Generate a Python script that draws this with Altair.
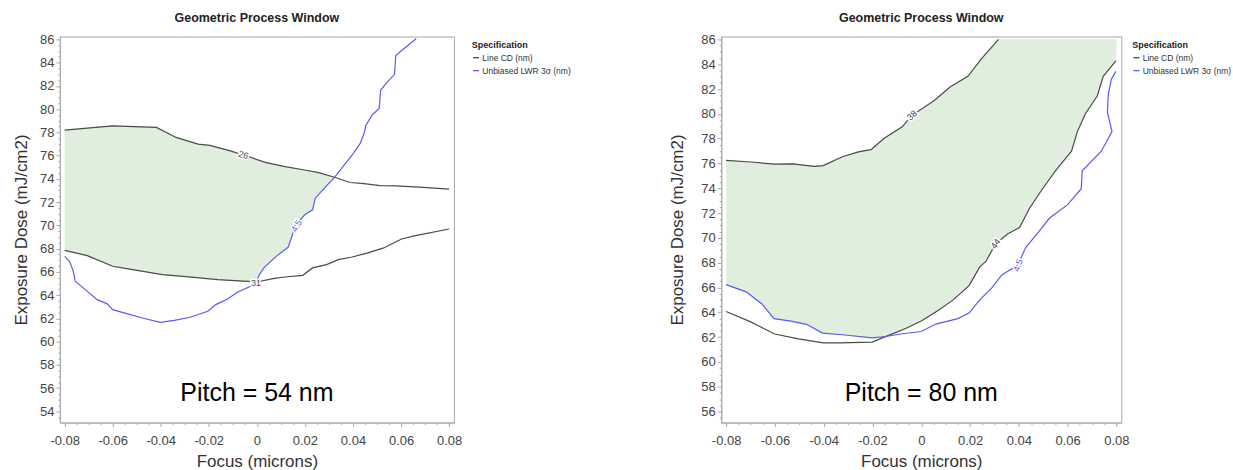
import altair as alt
import pandas as pd

FONT = "Liberation Sans"
CD_COLOR = "#4a4a4a"
LWR_COLOR = "#5a5af2"
WINDOW_FILL = "#dfeedd"
FRAME = "#a8a8a8"
SERIES = ["Line CD (nm)", "Unbiased LWR 3σ (nm)"]

# ---------------- Pitch = 54 nm ----------------
p54_cd_top_x = [-0.08, -0.06, -0.0418, -0.0336, -0.0245, -0.0196, -0.0114, -0.0056, 0.0035, 0.0117,
                0.0199, 0.0257, 0.0323, 0.0388, 0.0446, 0.0512, 0.0578, 0.0676, 0.08]
p54_cd_top_y = [78.2, 78.57, 78.43, 77.57, 77.0, 76.89, 76.43, 76.06, 75.43, 75.06,
                74.77, 74.54, 74.14, 73.69, 73.6, 73.43, 73.4, 73.29, 73.12]
p54_cd_bot_x = [-0.08, -0.0706, -0.06, -0.0542, -0.0393, -0.0295, -0.0163, 0.0, 0.0067, 0.0117,
                0.0191, 0.0232, 0.029, 0.0339, 0.0397, 0.0462, 0.0528, 0.0602, 0.066, 0.08]
p54_cd_bot_y = [67.85, 67.4, 66.48, 66.28, 65.76, 65.59, 65.33, 65.13, 65.42, 65.56,
                65.7, 66.34, 66.62, 67.05, 67.28, 67.63, 68.06, 68.83, 69.12, 69.69]
p54_lwr_x = [-0.08, -0.078, -0.0764, -0.0756, -0.0714, -0.0665, -0.0624, -0.06, -0.0542, -0.0476,
             -0.0402, -0.0344, -0.0278, -0.0204, -0.0171, -0.0122, -0.0081, -0.0015, 0.0, 0.001,
             0.0031, 0.0084, 0.013, 0.0146, 0.0158, 0.0199, 0.0232, 0.0243, 0.0281, 0.0323,
             0.0364, 0.0397, 0.043, 0.0446, 0.0454, 0.0479, 0.0509, 0.0515, 0.0537, 0.0573,
             0.0578, 0.0619, 0.0663]
p54_lwr_y = [67.34, 66.9, 66.05, 65.19, 64.47, 63.61, 63.27, 62.75, 62.41, 62.03,
             61.66, 61.83, 62.09, 62.61, 63.18, 63.67, 64.24, 64.87, 65.13, 65.76,
             66.39, 67.4, 68.11, 69.06, 69.91, 70.91, 71.34, 72.34, 73.2, 74.14,
             75.2, 76.06, 77.06, 77.91, 78.63, 79.49, 80.06, 81.63, 82.2, 83.0,
             84.63, 85.34, 86.06]
p54_label_text = ["26", "31", "4.5"]
p54_label_x = [-0.0056, -0.0004, 0.0165]
p54_label_y = [76.06, 65.05, 69.95]
p54_label_angle = [17, 0, 300]
p54_label_kind = ["cd", "cd", "lwr"]

# ---------------- Pitch = 80 nm ----------------
p80_cd_top_x = [-0.08, -0.0699, -0.0601, -0.0527, -0.0438, -0.0402, -0.0323, -0.0258, -0.0206, -0.0152,
                -0.0078, -0.0038, 0.0052, 0.0118, 0.0191, 0.0248, 0.0317]
p80_cd_top_y = [76.25, 76.12, 75.94, 75.97, 75.76, 75.83, 76.54, 76.94, 77.12, 78.04,
                78.96, 79.88, 81.06, 82.16, 83.03, 84.48, 86.0]
p80_cd_bot_x = [-0.08, -0.0699, -0.0601, -0.0503, -0.0402, -0.034, -0.0201, -0.0144, -0.0062, 0.0,
                0.0069, 0.0131, 0.0196, 0.024, 0.0265, 0.0305, 0.0354, 0.0403, 0.0444, 0.0493,
                0.055, 0.0616, 0.064, 0.0673, 0.0722, 0.0746, 0.0798]
p80_cd_bot_y = [64.07, 63.23, 62.25, 61.86, 61.54, 61.54, 61.6, 62.06, 62.71, 63.29,
                64.15, 65.0, 66.15, 67.66, 68.1, 69.53, 70.31, 70.83, 72.39, 73.84,
                75.41, 76.99, 78.57, 80.01, 81.46, 83.03, 84.27]
p80_lwr_x = [-0.08, -0.0718, -0.0653, -0.0604, -0.0535, -0.047, -0.0405, -0.0323, -0.0201, -0.0146,
             -0.0078, 0.0, 0.006, 0.015, 0.0196, 0.024, 0.0289, 0.033, 0.0395, 0.0428,
             0.0477, 0.0526, 0.0599, 0.0656, 0.066, 0.0738, 0.0782, 0.0763, 0.0767, 0.0779,
             0.0798]
p80_lwr_y = [66.23, 65.65, 64.67, 63.49, 63.29, 63.03, 62.32, 62.19, 61.93, 62.05,
             62.27, 62.45, 63.05, 63.49, 63.94, 65.0, 65.97, 67.01, 67.79, 69.22,
             70.39, 71.6, 72.66, 73.97, 75.41, 76.99, 78.57, 80.14, 81.59, 82.77,
             83.43]
p80_label_text = ["38", "44", "4.5"]
p80_label_x = [-0.0038, 0.0305, 0.0397]
p80_label_y = [79.88, 69.53, 67.79]
p80_label_angle = [318, 305, 292]
p80_label_kind = ["cd", "cd", "lwr"]
p80_window_corner = (0.08, 86.0)

# ---------------- ticks / annotations ----------------
FOCUS_TICKS = [round(-0.08 + 0.005 * k, 3) for k in range(33)]
DOSE54_TICKS = [53.5 + 0.5 * k for k in range(66)]
DOSE80_TICKS = [55.5 + 0.5 * k for k in range(62)]
PITCH_TEXT = ["Pitch = 54 nm", "Pitch = 80 nm"]
PITCH_POS = [(0.0, 55.61), (0.0, 57.52)]


def lines_df(segments):
    rows = []
    for seg, (name, xs, ys) in enumerate(segments):
        for i, (x, y) in enumerate(zip(xs, ys)):
            rows.append({"Focus": x, "Dose": y, "Specification": name, "seg": seg, "i": i})
    return pd.DataFrame(rows)


def poly_df(pts):
    return pd.DataFrame([{"Focus": x, "Dose": y, "i": i} for i, (x, y) in enumerate(pts)])


def labels_df(texts, xs, ys, angles, kinds):
    return pd.DataFrame({"Focus": xs, "Dose": ys, "txt": texts, "ang": angles,
                         "col": [CD_COLOR if k == "cd" else LWR_COLOR for k in kinds]})


# process-window polygons built from the contour lines
p54_window = (
    [(x, y) for x, y in zip(p54_cd_top_x, p54_cd_top_y) if x <= 0.0323]
    + [(x, y) for x, y in reversed(list(zip(p54_lwr_x, p54_lwr_y))) if 0.0 <= x < 0.0323]
    + [(x, y) for x, y in reversed(list(zip(p54_cd_bot_x, p54_cd_bot_y))) if x < 0.0]
)
p80_window = (
    list(zip(p80_cd_top_x, p80_cd_top_y))
    + [p80_window_corner]
    + [(x, y) for x, y in reversed(list(zip(p80_cd_bot_x, p80_cd_bot_y))) if x >= -0.0144]
    + [(x, y) for x, y in reversed(list(zip(p80_lwr_x, p80_lwr_y))) if x <= -0.0146]
)

MAJX = "abs(round(datum.value*1000)) % 20 === 0"
MAJY = "datum.value % 2 === 0"


def panel(lines, window, labels, pitch_text, pitch_pos, ydom, yticks, ytitle_pad, legend_x, width):
    xaxis = alt.Axis(
        values=FOCUS_TICKS,
        labelExpr=f"{MAJX} ? toString(round(datum.value*100)/100) : ''",
        tickSize={"condition": {"test": MAJX, "value": 4}, "value": 2},
        labelFont=FONT, labelFontSize=13, labelColor="#444444", labelPadding=8,
        labelFlush=False, labelOverlap=False, tickColor=FRAME, domainColor=FRAME, grid=False,
        titleFont=FONT, titleFontSize=17, titleFontWeight="normal", titleColor="#333333",
        titlePadding=6,
    )
    yaxis = alt.Axis(
        values=yticks,
        labelExpr=f"{MAJY} ? toString(datum.value) : ''",
        tickSize={"condition": {"test": MAJY, "value": 4}, "value": 2},
        labelFont=FONT, labelFontSize=13, labelColor="#444444", labelPadding=2,
        labelOverlap=False, labelFlush=False, tickColor=FRAME, domainColor=FRAME, grid=False,
        titleFont=FONT, titleFontSize=17, titleFontWeight="normal", titleColor="#333333",
        titlePadding=ytitle_pad,
    )
    x = alt.X("Focus:Q", scale=alt.Scale(domain=[-0.082, 0.082], nice=False, zero=False),
              axis=xaxis, title="Focus (microns)")
    y = alt.Y("Dose:Q", scale=alt.Scale(domain=ydom, nice=False, zero=False),
              axis=yaxis, title="Exposure Dose (mJ/cm2)")

    fill = alt.Chart(poly_df(window)).mark_line(
        fill=WINDOW_FILL, stroke=WINDOW_FILL, strokeWidth=0.5, clip=True
    ).encode(x=x, y=y, order="i:Q")

    contour = alt.Chart(lines).mark_line(strokeWidth=1.2, clip=True).encode(
        x=x, y=y, order="i:Q", detail="seg:N",
        color=alt.Color("Specification:N",
                        scale=alt.Scale(domain=SERIES, range=[CD_COLOR, LWR_COLOR]),
                        legend=alt.Legend(
                            title="Specification", orient="none", legendX=legend_x, legendY=5,
                            padding=0,
                            titleFont=FONT, titleFontSize=9, titleFontWeight="bold",
                            titleColor="#222222", titlePadding=3,
                            labelFont=FONT, labelFontSize=8.5, labelColor="#333333", labelOffset=2,
                            symbolType="stroke", symbolSize=36, symbolStrokeWidth=1.3,
                            rowPadding=4)),
    )

    halo = alt.Chart(labels).mark_text(
        font=FONT, fontSize=9, stroke="white", strokeWidth=3, fill="white"
    ).encode(x=x, y=y, text="txt:N", angle=alt.Angle("ang:Q", scale=None))
    lab = alt.Chart(labels).mark_text(font=FONT, fontSize=9).encode(
        x=x, y=y, text="txt:N", angle=alt.Angle("ang:Q", scale=None),
        fill=alt.Fill("col:N", scale=None))

    pitch = alt.Chart(pd.DataFrame({"Focus": [pitch_pos[0]], "Dose": [pitch_pos[1]],
                                    "txt": [pitch_text]})).mark_text(
        font=FONT, fontSize=25, color="#000000", baseline="middle", align="center"
    ).encode(x=x, y=y, text="txt:N")

    return alt.layer(fill, contour, halo, lab, pitch).properties(
        width=width, height=387,
        title=alt.TitleParams("Geometric Process Window", font=FONT, fontSize=12.5,
                              fontWeight="bold", color="#222222", anchor="middle", offset=9),
    )


left = panel(
    lines_df([(SERIES[0], p54_cd_top_x, p54_cd_top_y), (SERIES[0], p54_cd_bot_x, p54_cd_bot_y),
              (SERIES[1], p54_lwr_x, p54_lwr_y)]),
    p54_window,
    labels_df(p54_label_text, p54_label_x, p54_label_y, p54_label_angle, p54_label_kind),
    PITCH_TEXT[0], PITCH_POS[0], [53.03, 86.26], DOSE54_TICKS, 9, 413, 395,
)
right = panel(
    lines_df([(SERIES[0], p80_cd_top_x, p80_cd_top_y), (SERIES[0], p80_cd_bot_x, p80_cd_bot_y),
              (SERIES[1], p80_lwr_x, p80_lwr_y)]),
    p80_window,
    labels_df(p80_label_text, p80_label_x, p80_label_y, p80_label_angle, p80_label_kind),
    PITCH_TEXT[1], PITCH_POS[1], [55.11, 86.24], DOSE80_TICKS, 14, 412, 401,
)

chart = (
    alt.hconcat(left, right, spacing=268, bounds="flush")
    .resolve_scale(color="independent", x="independent", y="independent")
    .resolve_legend(color="independent")
    .properties(padding={"left": 12, "top": 10, "right": 0, "bottom": 0})
    .configure_view(stroke=FRAME, strokeWidth=1)
)

chart.save("out.html", embed_options={"renderer": "svg", "actions": False})
